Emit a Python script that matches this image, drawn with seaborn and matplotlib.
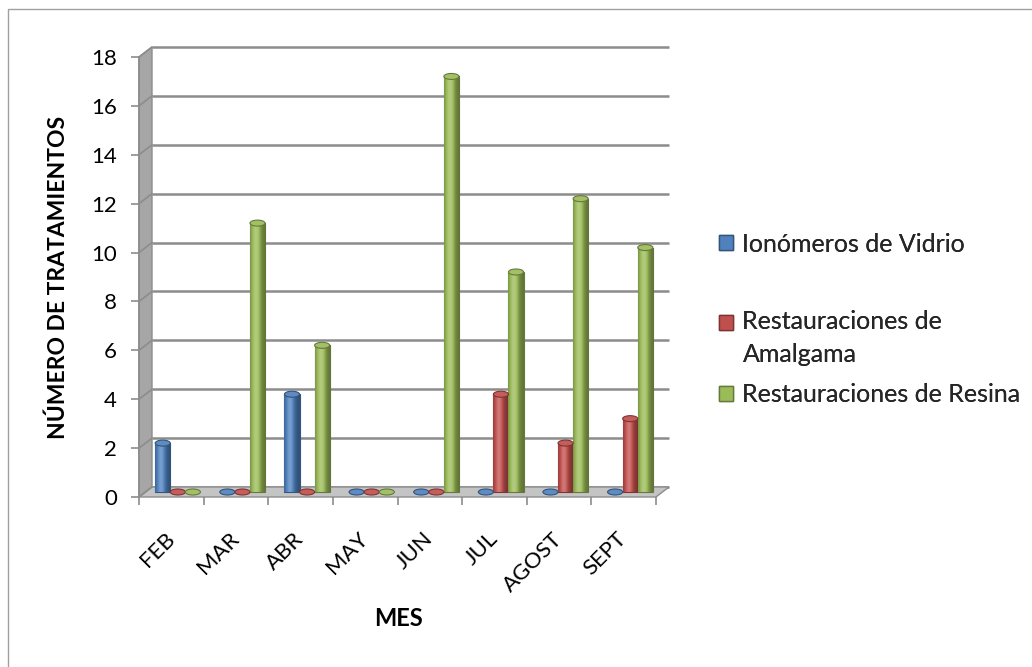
import numpy as np
import pandas as pd
import matplotlib
matplotlib.use("Agg")
import matplotlib.pyplot as plt
import seaborn as sns
from matplotlib.transforms import ScaledTranslation
from matplotlib.patches import Polygon, Rectangle, Ellipse
from matplotlib.colors import to_rgb
from matplotlib.legend_handler import HandlerPatch

# ---------------- data ----------------
meses = ["FEB", "MAR", "ABR", "MAY", "JUN", "JUL", "AGOST", "SEPT"]
ionomeros = [2, 0, 4, 0, 0, 0, 0, 0]
amalgama = [0, 0, 0, 0, 0, 4, 2, 3]
resina = [0, 11, 6, 0, 17, 9, 12, 10]
series = ["Ionómeros de Vidrio", "Restauraciones de Amalgama", "Restauraciones de Resina"]
colores = ["#4F81BD", "#C0504D", "#9BBB59"]
yticks = list(range(0, 19, 2))

sns.set_theme(style="white")
plt.rcParams["font.family"] = ["Lato", "DejaVu Sans"]

df = pd.DataFrame({
    "Mes": meses * 3,
    "Tratamientos": ionomeros + amalgama + resina,
    "Tipo": [s for s in series for _ in meses],
})

W, H = 1032, 667
fig = plt.figure(figsize=(W / 100, H / 100), dpi=100)
fig.patch.set_facecolor("white")
ax = fig.add_axes([139 / W, 1 - 497 / H, 517 / W, 440 / H])

sns.barplot(data=df, x="Mes", y="Tratamientos", hue="Tipo", hue_order=series,
            order=meses, palette=colores, width=0.7, saturation=1,
            errorbar=None, legend=False, ax=ax, zorder=3)

bars = list(ax.patches)

XMIN, XMAX, YMAX = -0.5, len(meses) - 0.5, 18
pxx = 517 / len(meses)
pxy = 440 / YMAX
DX, DY = 13 / pxx, 10 / pxy          # depth of the 3D box in data units
grid_c = "#8c8c8c"

# back wall gridlines
for t in yticks:
    ax.plot([XMIN + DX, XMAX + DX], [t + DY, t + DY], color=grid_c, lw=1.8,
            zorder=1, clip_on=False, solid_capstyle="butt")
# left wall
ax.add_patch(Polygon([(XMIN, 0), (XMIN, YMAX), (XMIN + DX, YMAX + DY), (XMIN + DX, DY)],
                     closed=True, facecolor="#a6a6a6", edgecolor="#8c8c8c", lw=1,
                     zorder=1.5, clip_on=False))
# floor
ax.add_patch(Polygon([(XMIN, 0), (XMAX, 0), (XMAX + DX, DY), (XMIN + DX, DY)],
                     closed=True, facecolor="#c4c4c4", edgecolor="#8c8c8c", lw=1,
                     zorder=1.5, clip_on=False))
for t in yticks:
    ax.plot([XMIN, XMIN + DX], [t, t + DY], color=grid_c, lw=1.2, zorder=1.6, clip_on=False)

off = ax.transData + ScaledTranslation(6.5 / 100, 5 / 100, fig.dpi_scale_trans)


def shade(rgb, f):
    rgb = np.array(rgb)
    if f >= 1:
        return rgb + (1 - rgb) * (f - 1)
    return rgb * f


tt = np.linspace(0, 1, 60)
prof = 0.72 + 0.55 * np.exp(-((tt - 0.38) / 0.28) ** 2) - 0.1 * tt
cap_h = 6 / pxy
for p in bars:
    x0, w, h = p.get_x(), p.get_width(), p.get_height()
    base = to_rgb(p.get_facecolor())
    dark = shade(base, 0.65)
    p.set_transform(off)
    p.set_edgecolor(dark)
    p.set_linewidth(0.8)
    if h > 0:
        grad = np.array([[shade(base, f) for f in prof]])
        im = ax.imshow(grad, extent=(x0, x0 + w, 0, h), aspect="auto",
                       transform=off, zorder=3.2, interpolation="bilinear")
        im.set_clip_path(p)
    ax.add_patch(Ellipse((x0 + w / 2, h), w, cap_h, transform=off,
                         facecolor=shade(base, 1.08), edgecolor=dark, lw=0.8, zorder=3.5))

ax.set_xlim(XMIN, XMAX)
ax.set_ylim(0, YMAX)

for s in ["top", "right", "bottom"]:
    ax.spines[s].set_visible(False)
ax.spines["left"].set_color(grid_c)
ax.spines["left"].set_linewidth(1.2)
ax.spines["left"].set_zorder(2)

ax.set_yticks(yticks)
ax.set_yticklabels([str(t) for t in yticks], fontsize=16, color="black")
ax.tick_params(axis="y", length=6, width=1.2, color=grid_c, pad=10, left=True)

ax.set_xticks(range(len(meses)))
ax.set_xticks(np.arange(XMIN, XMAX + 0.01, 1), minor=True)
ax.set_xticklabels(meses, rotation=45, ha="right", va="center",
                   rotation_mode="anchor", fontsize=16, color="black")
ax.tick_params(axis="x", which="major", length=0, pad=28)
ax.tick_params(axis="x", which="minor", length=6, width=1.2, color=grid_c, bottom=True)

ax.set_ylabel("NÚMERO DE TRATAMIENTOS", fontsize=16.5, fontweight="bold", color="black")
ax.yaxis.set_label_coords((69 - 139) / 517, 0.5)
ax.set_xlabel("MES", fontsize=17, fontweight="bold", color="black")
ax.xaxis.set_label_coords((398 - 139) / 517, (497 - 619) / 440)
ax.xaxis.label.set_va("center")
ax.grid(False)

# legend (one box per entry to reproduce Excel's spacing)
LEG_FS = 18


def make_handler(shift):
    def patch_func(legend, orig_handle, xdescent, ydescent, width, height, fontsize):
        return Rectangle((-xdescent, -ydescent + shift), width, height)
    return HandlerPatch(patch_func=patch_func)


leg_y = [244, 338, 395]
for lab, c, yy in zip(series, colores, leg_y):
    two = "de Amalgama" in lab
    txt = lab.replace("de Amalgama", "de\nAmalgama")
    hnd = Rectangle((0, 0), 1, 1, facecolor=c, edgecolor=shade(to_rgb(c), 0.65), lw=1)
    lg = fig.legend(handles=[hnd], labels=[txt], loc="center left",
                    bbox_to_anchor=(719 / W, 1 - yy / H), frameon=False,
                    fontsize=LEG_FS, handlelength=0.56, handleheight=0.56,
                    handletextpad=0.38, borderpad=0, borderaxespad=0,
                    handler_map={Rectangle: make_handler(11.9 if two else 0)})
    for t in lg.get_texts():
        t.set_linespacing(1.55)
    fig.add_artist(lg)

# outer frame
fig.patches.append(Rectangle((8 / W, -0.1), 1.2, 1.1 - 9 / H, transform=fig.transFigure,
                             fill=False, edgecolor="#a0a0a0", lw=1))

fig.savefig("out.png", dpi=100)
